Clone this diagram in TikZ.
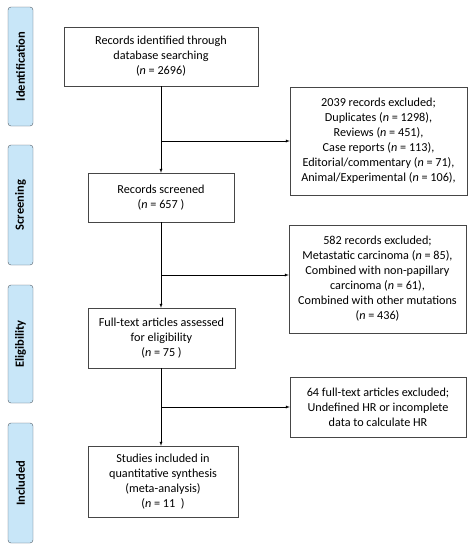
\documentclass[tikz,border=0pt]{standalone}
\usepackage{fontspec}
\setmainfont{Carlito}
\usepackage{tikz}

\definecolor{stagefill}{RGB}{200,230,248}
\definecolor{stageline}{RGB}{80,90,100}
\definecolor{boxline}{RGB}{70,70,70}

\tikzset{
  stage/.style={draw=stageline, fill=stagefill, rounded corners=3pt, rotate=90,
    minimum height=25pt, font=\bfseries\fontsize{12.5}{14}\selectfont, inner sep=0pt},
  flowbox/.style={draw=boxline, align=center, inner sep=2pt,
    font=\fontsize{12.2}{15}\selectfont},
}

\begin{document}
\begin{tikzpicture}[x=1pt, y=-1pt]
\useasboundingbox (0,0) rectangle (476,550) ;

% stages
\node[stage, minimum width=119pt] (ident) at (20.5,66.5) {Identification} ;
\node[stage, minimum width=120pt] (screen) at (20.5,205) {Screening} ;
\node[stage, minimum width=118pt] (elig) at (20.5,344) {Eligibility} ;
\node[stage, minimum width=120pt] (incl) at (20.5,483) {Included} ;

% main boxes
\node[flowbox, minimum width=194pt, minimum height=59pt] (records) at (161,56.5)
  {Records identified through\\database searching\\(\textit{n} = 2696)} ;
\node[flowbox, minimum width=146pt, minimum height=49pt] (screened) at (161,197.5)
  {Records screened\\(\textit{n} = 657 )} ;
\node[flowbox, minimum width=147pt, minimum height=60pt] (fulltext) at (161.5,338)
  {Full-text articles assessed\\for eligibility\\(\textit{n} = 75 )} ;
\node[flowbox, minimum width=150pt, minimum height=71pt] (studies) at (163,481.5)
  {Studies included in\\quantitative synthesis\\(meta-analysis)\\(\textit{n} = 11\ \ )} ;

% excluded boxes
\node[flowbox, minimum width=177pt, minimum height=108pt] (excla) at (378.5,141)
  {2039 records excluded;\\Duplicates (\textit{n} = 1298),\\Reviews (\textit{n} = 451),\\Case reports (\textit{n} = 113),\\Editorial/commentary (\textit{n} = 71),\\Animal/Experimental (\textit{n} = 106),} ;
\node[flowbox, minimum width=177pt, minimum height=108pt] (exclb) at (377.5,279)
  {582 records excluded;\\Metastatic carcinoma (\textit{n} = 85),\\Combined with non-papillary\\carcinoma (\textit{n} = 61),\\Combined with other mutations\\(\textit{n} = 436)} ;
\node[flowbox, minimum width=176pt, minimum height=60pt] (exclc) at (378,407)
  {64 full-text articles excluded;\\Undefined HR or incomplete\\data to calculate HR} ;

% connectors
\coordinate (ja) at (161,141) ;
\coordinate (jb) at (161,275) ;
\coordinate (jc) at (161,407) ;
\draw[>=latex, ->] (records.south -| ja) -- (screened.north -| ja) ;
\draw[>=latex, ->] (screened.south -| jb) -- (fulltext.north -| jb) ;
\draw[>=latex, ->] (fulltext.south -| jc) -- (studies.north -| jc) ;
\draw[>=latex, ->] (ja) -- (ja -| excla.west) ;
\draw[>=latex, ->] (jb) -- (jb -| exclb.west) ;
\draw[>=latex, ->] (jc) -- (jc -| exclc.west) ;
\end{tikzpicture}
\end{document}
